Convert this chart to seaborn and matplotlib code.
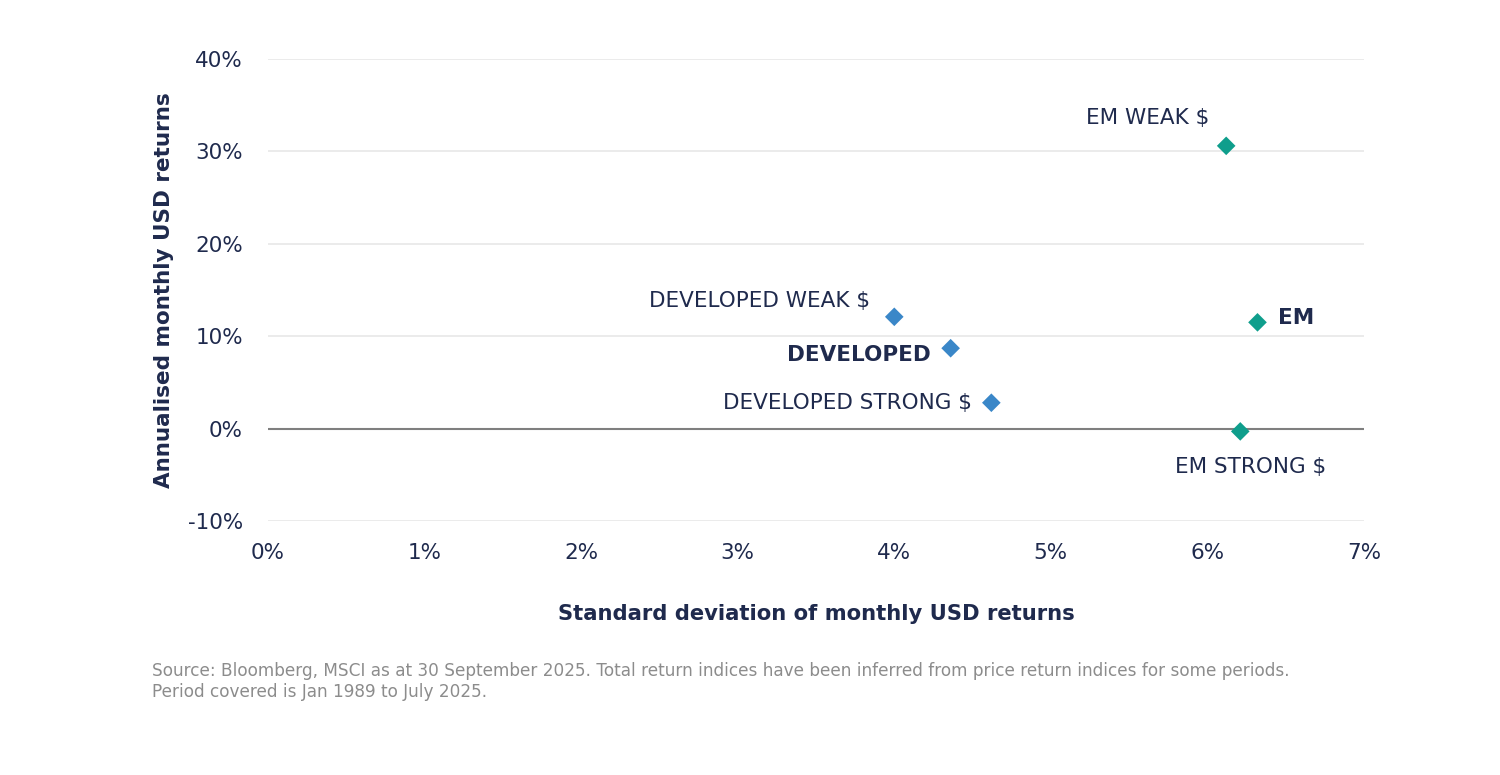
import pandas as pd
import matplotlib.pyplot as plt
import seaborn as sns
from matplotlib.ticker import PercentFormatter

# Dados (desvio padrão e retorno anualizado, em %)
labels = ['DEVELOPED WEAK $', 'DEVELOPED', 'DEVELOPED STRONG $', 'EM WEAK $', 'EM', 'EM STRONG $']
groups = ['Developed', 'Developed', 'Developed', 'EM', 'EM', 'EM']
std_dev = [4.00, 4.36, 4.62, 6.12, 6.32, 6.21]
returns = [12.1, 8.7, 2.8, 30.6, 11.5, -0.3]

x_ticks = [0, 1, 2, 3, 4, 5, 6, 7]
y_ticks = [-10, 0, 10, 20, 30, 40]

navy = '#1f2a4d'
palette = {'Developed': '#3a87c8', 'EM': '#0f9e8c'}

df = pd.DataFrame({'label': labels, 'group': groups, 'sd': std_dev, 'ret': returns})

sns.set_theme(style='white')
plt.rcParams['font.family'] = ['DejaVu Sans']
plt.rcParams['axes.unicode_minus'] = False

fig = plt.figure(figsize=(15, 7.75), dpi=100)
ax = fig.add_axes([0.1787, 0.3277, 0.7306, 0.5962])

for y in y_ticks:
    if y != 0:
        ax.axhline(y, color='#e8e8e8', lw=1.2, zorder=0)
ax.axhline(0, color='#7f7f7f', lw=1.5, zorder=1)

sns.scatterplot(data=df, x='sd', y='ret', hue='group', palette=palette, marker='D',
                s=90, edgecolor='none', legend=False, ax=ax, zorder=3)

# posição dos rótulos: (dx, dy em pixels, alinhamento, negrito)
label_style = {
    'DEVELOPED WEAK $': (-24, 16, 'right', 'normal'),
    'DEVELOPED': (-20, -7, 'right', 'bold'),
    'DEVELOPED STRONG $': (-19, 0, 'right', 'normal'),
    'EM WEAK $': (-17, 28, 'right', 'normal'),
    'EM': (21, 4, 'left', 'bold'),
    'EM STRONG $': (10, -36, 'center', 'normal'),
}
for _, row in df.iterrows():
    dx, dy, ha, fw = label_style[row['label']]
    ax.annotate(row['label'], (row['sd'], row['ret']), xytext=(dx, dy),
                textcoords='offset pixels', ha=ha, va='center', fontsize=15.5,
                fontweight=fw, color=navy)

ax.set_xlim(0, 7)
ax.set_ylim(-10, 40)
ax.set_xticks(x_ticks)
ax.set_yticks(y_ticks)
ax.xaxis.set_major_formatter(PercentFormatter(decimals=0))
ax.yaxis.set_major_formatter(PercentFormatter(decimals=0))
ax.tick_params(axis='both', length=0, labelsize=15.5, labelcolor=navy)
ax.tick_params(axis='x', pad=16)
ax.tick_params(axis='y', pad=18)
sns.despine(ax=ax, left=True, bottom=True)

ax.set_xlabel('Standard deviation of monthly USD returns', fontsize=15.2,
              fontweight='bold', color=navy, labelpad=29)
ax.set_ylabel('Annualised monthly USD returns', fontsize=15.5,
              fontweight='bold', color=navy, labelpad=10)

fig.text(0.1013, 0.146, 'Source: Bloomberg, MSCI as at 30 September 2025. Total return indices have been '
         'inferred from price return indices for some periods.\nPeriod covered is Jan 1989 to July 2025.',
         fontsize=12.2, color='#8c8c8c', va='top', linespacing=1.2)

fig.savefig('out.png', dpi=100, facecolor='white')
